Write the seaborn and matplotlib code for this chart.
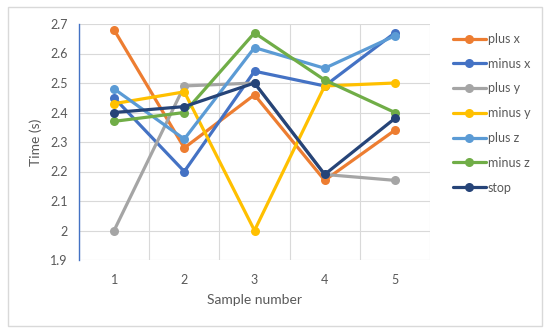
import pandas as pd
import matplotlib.pyplot as plt
import seaborn as sns
from matplotlib.patches import Rectangle

# Data
samples = [1, 2, 3, 4, 5]
series_names = ['plus x', 'minus x', 'plus y', 'minus y', 'plus z', 'minus z', 'stop']
plus_x = [2.68, 2.28, 2.46, 2.17, 2.34]
minus_x = [2.45, 2.20, 2.54, 2.49, 2.67]
plus_y = [2.00, 2.49, 2.50, 2.19, 2.17]
minus_y = [2.43, 2.47, 2.00, 2.49, 2.50]
plus_z = [2.48, 2.31, 2.62, 2.55, 2.66]
minus_z = [2.37, 2.40, 2.67, 2.51, 2.40]
stop = [2.40, 2.42, 2.50, 2.19, 2.38]
y_ticks = [1.9, 2.0, 2.1, 2.2, 2.3, 2.4, 2.5, 2.6, 2.7]
y_tick_labels = ['1.9', '2', '2.1', '2.2', '2.3', '2.4', '2.5', '2.6', '2.7']

colors = ['#ED7D31', '#4472C4', '#A5A5A5', '#FFC000', '#5B9BD5', '#70AD47', '#264478']

# Long table for seaborn
all_values = [plus_x, minus_x, plus_y, minus_y, plus_z, minus_z, stop]
rows = []
for name, vals in zip(series_names, all_values):
    for s, v in zip(samples, vals):
        rows.append({'Sample': s, 'Time': v, 'Series': name})
df = pd.DataFrame(rows)

sns.set_style('white')
plt.rcParams['font.family'] = ['Lato', 'DejaVu Sans']
text_color = '#595959'

fig = plt.figure(figsize=(5.5, 3.35), dpi=100)
ax = fig.add_axes([79 / 550, 1 - 260 / 335, 351 / 550, 236 / 335])

# outer chart border
fig.patches.append(Rectangle((8 / 550, 1 - 326 / 335), 534 / 550, 319 / 335,
                             transform=fig.transFigure, fill=False,
                             edgecolor='#D9D9D9', linewidth=1))

sns.lineplot(data=df, x='Sample', y='Time', hue='Series', hue_order=series_names,
             palette=colors, marker='o', markersize=6.5, markeredgewidth=0,
             linewidth=2.3, ax=ax, legend=False)

ax.set_xlim(0.5, 5.5)
ax.set_ylim(1.9, 2.7)
ax.set_yticks(y_ticks)
ax.set_yticklabels(y_tick_labels)
ax.set_xticks(samples)
ax.set_xticklabels([str(s) for s in samples])
ax.set_xticks([0.5, 1.5, 2.5, 3.5, 4.5, 5.5], minor=True)
ax.grid(False)
ax.grid(True, axis='y', which='major', color='#D9D9D9', linewidth=0.8)
ax.grid(True, axis='x', which='minor', color='#D9D9D9', linewidth=0.8)
ax.set_axisbelow(True)
ax.tick_params(which='both', length=0, labelsize=9, labelcolor=text_color)
ax.tick_params(axis='x', pad=10)
ax.tick_params(axis='y', pad=8)

for side in ['top', 'right', 'bottom']:
    ax.spines[side].set_visible(False)
ax.spines['left'].set_color('#4472C4')
ax.spines['left'].set_linewidth(1)

ax.set_xlabel('Sample number', fontsize=10, color=text_color, labelpad=6)
ax.set_ylabel('Time (s)', fontsize=10, color=text_color, labelpad=6)

# legend on the right
handles = [plt.Line2D([], [], color=c, marker='o', markersize=6.5, markeredgewidth=0,
                      linewidth=2.3) for c in colors]
leg = fig.legend(handles, series_names, loc='upper left',
                 bbox_to_anchor=(448 / 550, 1 - 28 / 335), frameon=False,
                 fontsize=9, handlelength=2.6, handletextpad=0.2, labelspacing=1.02,
                 borderaxespad=0)
for t in leg.get_texts():
    t.set_color(text_color)

fig.savefig('out.png', dpi=100)
